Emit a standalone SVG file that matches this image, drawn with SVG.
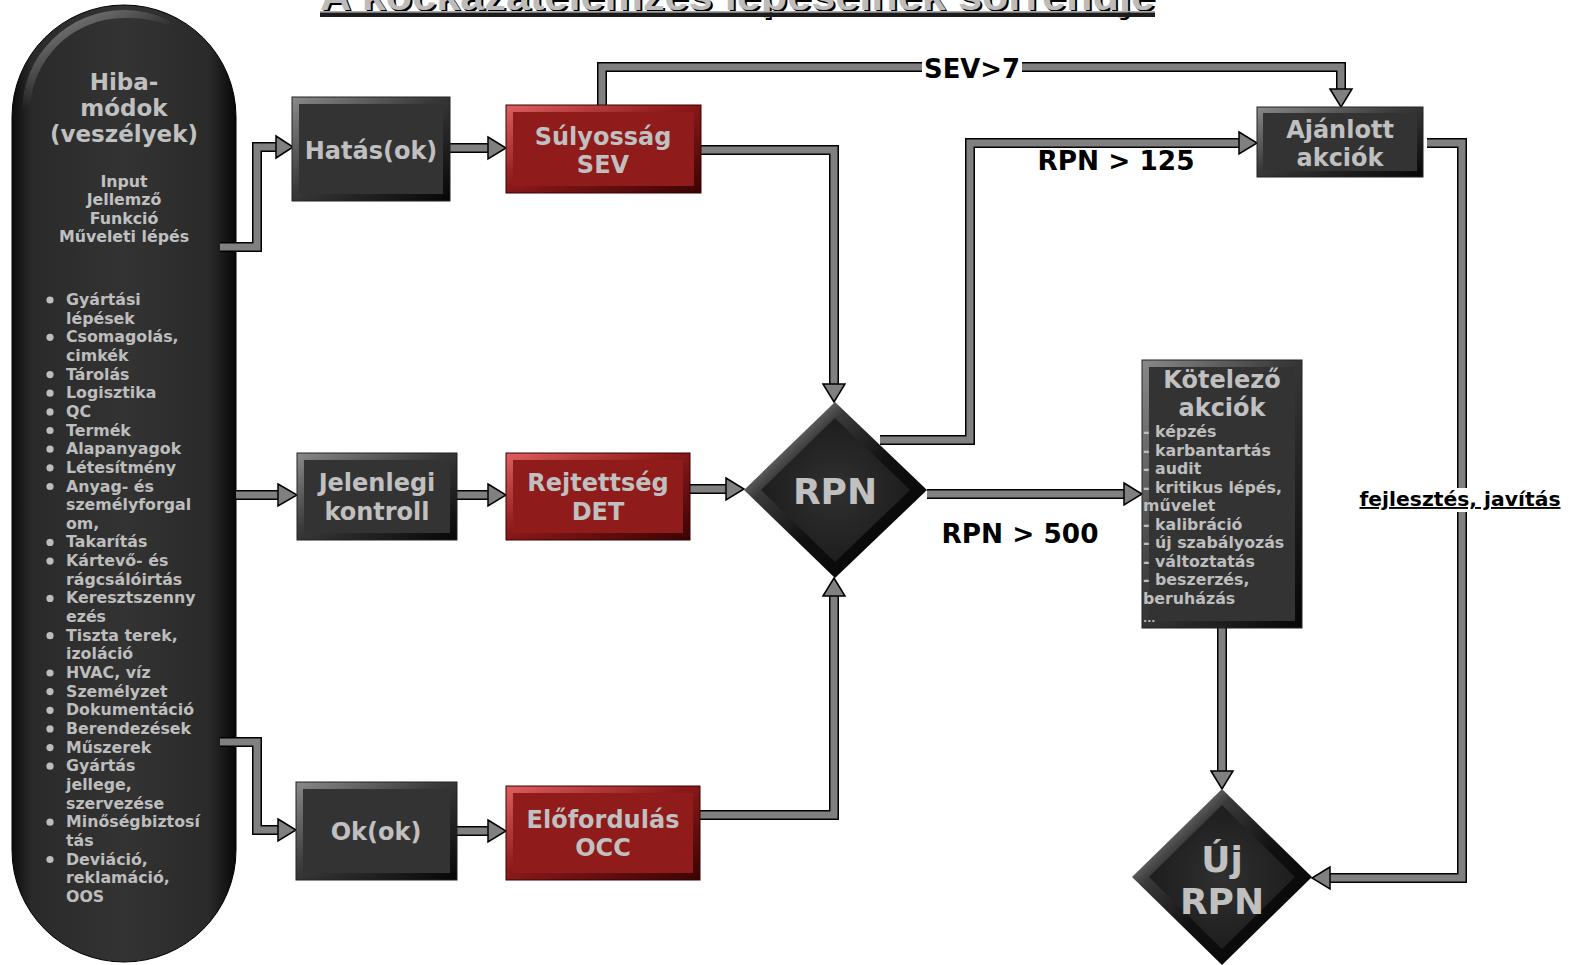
<svg xmlns="http://www.w3.org/2000/svg" width="1569" height="965" viewBox="0 0 1569 965">
<defs>
<linearGradient id="pillG" x1="0" y1="0" x2="1" y2="0">
<stop offset="0" stop-color="#0c0c0c"/><stop offset="0.09" stop-color="#2a2a2a"/><stop offset="0.5" stop-color="#333"/><stop offset="0.88" stop-color="#2a2a2a"/><stop offset="1" stop-color="#080808"/>
</linearGradient>
<linearGradient id="pillTop" x1="0" y1="0" x2="1" y2="1">
<stop offset="0" stop-color="#fff" stop-opacity="0.5"/><stop offset="0.5" stop-color="#fff" stop-opacity="0"/>
</linearGradient>
<linearGradient id="darkB" x1="0" y1="0" x2="1" y2="1">
<stop offset="0" stop-color="#8a8a8a"/><stop offset="0.45" stop-color="#3a3a3a"/><stop offset="1" stop-color="#050505"/>
</linearGradient>
<linearGradient id="redB" x1="0" y1="0" x2="1" y2="1">
<stop offset="0" stop-color="#e06060"/><stop offset="0.45" stop-color="#8e1a1a"/><stop offset="1" stop-color="#3a0303"/>
</linearGradient>
<linearGradient id="diaG" x1="0" y1="0" x2="1" y2="1">
<stop offset="0" stop-color="#f4f4f4"/><stop offset="0.3" stop-color="#3a3a3a"/><stop offset="0.55" stop-color="#111"/><stop offset="1" stop-color="#000"/>
</linearGradient>
<radialGradient id="diaIn" cx="0.5" cy="0.5" r="0.6">
<stop offset="0" stop-color="#303030"/><stop offset="1" stop-color="#1a1a1a"/>
</radialGradient>
<style>
.t{font-family:"DejaVu Sans",Verdana,sans-serif;font-weight:bold;fill:#c0c0c0;text-anchor:middle}
.h{font-size:24px}
.s{font-family:"DejaVu Sans",Verdana,sans-serif;font-weight:bold;fill:#bdbdbd;font-size:15.8px}
.lb{font-family:"DejaVu Sans",Verdana,sans-serif;font-weight:bold;fill:#000;text-anchor:middle}
.lc{font-family:"DejaVu Sans Condensed","DejaVu Sans",sans-serif;font-weight:bold;fill:#000;text-anchor:middle;font-size:27px}
.sh1{fill:none;stroke:#000;stroke-width:10;stroke-linejoin:miter}
.sh2{fill:none;stroke:#808080;stroke-width:7;stroke-linejoin:miter}
.hd{fill:#808080;stroke:#000;stroke-width:1.5;stroke-linejoin:miter}
.bul{fill:#bdbdbd}
</style>
</defs>
<rect width="1569" height="965" fill="#fff"/>

<g id="title">
<text x="322" y="12" font-family="Liberation Sans,Arial,sans-serif" font-weight="bold" font-size="40" fill="#000" textLength="835" lengthAdjust="spacingAndGlyphs">A kockázatelemzés lépéseinek sorrendje</text>
<text x="320" y="10" font-family="Liberation Sans,Arial,sans-serif" font-weight="bold" font-size="40" fill="#bcbcbc" textLength="835" lengthAdjust="spacingAndGlyphs">A kockázatelemzés lépéseinek sorrendje</text>
<rect x="320" y="11" width="835" height="1.5" fill="#aaa"/>
<rect x="320" y="12.5" width="835" height="4.5" fill="#1c1c1c"/>
</g>

<g id="hibamodok">
<rect x="12" y="5" width="224" height="957" rx="112" ry="112" fill="url(#pillG)" stroke="#000" stroke-width="1"/>
<path d="M22,112 A102,102 0 0 1 124,10 A102,102 0 0 1 200,44 A110,110 0 0 0 124,18 A94,94 0 0 0 30,112 Z" fill="url(#pillTop)"/>
<text class="t" x="124" y="90" font-size="23">Hiba-</text>
<text class="t" x="124" y="116" font-size="23">módok</text>
<text class="t" x="124" y="142" font-size="23">(veszélyek)</text>
<text class="t" x="124" y="186.5" font-size="15.8">Input</text>
<text class="t" x="124" y="205" font-size="15.8">Jellemző</text>
<text class="t" x="124" y="223.5" font-size="15.8">Funkció</text>
<text class="t" x="124" y="242" font-size="15.8">Műveleti lépés</text>
<g class="s">
<text x="66" y="305">Gyártási</text>
<text x="66" y="323.6">lépések</text>
<text x="66" y="342.3">Csomagolás,</text>
<text x="66" y="361">cimkék</text>
<text x="66" y="379.6">Tárolás</text>
<text x="66" y="398.2">Logisztika</text>
<text x="66" y="416.9">QC</text>
<text x="66" y="435.5">Termék</text>
<text x="66" y="454.2">Alapanyagok</text>
<text x="66" y="472.8">Létesítmény</text>
<text x="66" y="491.5">Anyag- és</text>
<text x="66" y="510.1">személyforgal</text>
<text x="66" y="528.8">om,</text>
<text x="66" y="547.4">Takarítás</text>
<text x="66" y="566.1">Kártevő- és</text>
<text x="66" y="584.7">rágcsálóirtás</text>
<text x="66" y="603.4">Keresztszenny</text>
<text x="66" y="622">ezés</text>
<text x="66" y="640.7">Tiszta terek,</text>
<text x="66" y="659.3">izoláció</text>
<text x="66" y="678">HVAC, víz</text>
<text x="66" y="696.6">Személyzet</text>
<text x="66" y="715.3">Dokumentáció</text>
<text x="66" y="733.9">Berendezések</text>
<text x="66" y="752.6">Műszerek</text>
<text x="66" y="771.2">Gyártás</text>
<text x="66" y="789.9">jellege,</text>
<text x="66" y="808.5">szervezése</text>
<text x="66" y="827.2">Minőségbiztosí</text>
<text x="66" y="845.8">tás</text>
<text x="66" y="864.5">Deviáció,</text>
<text x="66" y="883.1">reklamáció,</text>
<text x="66" y="901.8">OOS</text>
</g>
<g class="bul">
<circle cx="50" cy="300" r="3.6"/><circle cx="50" cy="337.3" r="3.6"/><circle cx="50" cy="374.6" r="3.6"/><circle cx="50" cy="393.2" r="3.6"/><circle cx="50" cy="411.9" r="3.6"/><circle cx="50" cy="430.5" r="3.6"/><circle cx="50" cy="449.2" r="3.6"/><circle cx="50" cy="467.8" r="3.6"/><circle cx="50" cy="486.5" r="3.6"/><circle cx="50" cy="542.4" r="3.6"/><circle cx="50" cy="561.1" r="3.6"/><circle cx="50" cy="598.4" r="3.6"/><circle cx="50" cy="635.7" r="3.6"/><circle cx="50" cy="673" r="3.6"/><circle cx="50" cy="691.6" r="3.6"/><circle cx="50" cy="710.3" r="3.6"/><circle cx="50" cy="728.9" r="3.6"/><circle cx="50" cy="747.6" r="3.6"/><circle cx="50" cy="766.2" r="3.6"/><circle cx="50" cy="822.2" r="3.6"/><circle cx="50" cy="859.5" r="3.6"/>
</g>
</g>

<g id="connectors">
<path class="sh1" d="M220,247 H257 V147 H280"/><path class="sh2" d="M220,247 H257 V147 H280"/><polygon class="hd" points="276,136 293,147 276,158"/>
<path class="sh1" d="M236,495 H281"/><path class="sh2" d="M236,495 H281"/><polygon class="hd" points="278,484 297,495 278,506"/>
<path class="sh1" d="M220,742 H257 V830 H281"/><path class="sh2" d="M220,742 H257 V830 H281"/><polygon class="hd" points="278,819 296,830 278,841"/>
<path class="sh1" d="M450,148 H491"/><path class="sh2" d="M450,148 H491"/><polygon class="hd" points="488,137 506,148 488,159"/>
<path class="sh1" d="M457,495 H491"/><path class="sh2" d="M457,495 H491"/><polygon class="hd" points="488,484 506,495 488,506"/>
<path class="sh1" d="M457,831 H491"/><path class="sh2" d="M457,831 H491"/><polygon class="hd" points="488,820 506,831 488,842"/>
<path class="sh1" d="M701,150 H834 V387"/><path class="sh2" d="M701,150 H834 V387"/><polygon class="hd" points="823,384 834,402 845,384"/>
<path class="sh1" d="M690,489 H729"/><path class="sh2" d="M690,489 H729"/><polygon class="hd" points="726,478 744,489 726,500"/>
<path class="sh1" d="M700,815 H834 V593"/><path class="sh2" d="M700,815 H834 V593"/><polygon class="hd" points="823,596 834,578 845,596"/>
<path class="sh1" d="M602,105 V67 H1341 V92"/><path class="sh2" d="M602,105 V67 H1341 V92"/><polygon class="hd" points="1330,89 1341,107 1352,89"/>
<path class="sh1" d="M880,440 H970 V143 H1242"/><path class="sh2" d="M880,440 H970 V143 H1242"/><polygon class="hd" points="1239,132 1257,143 1239,154"/>
<path class="sh1" d="M927,494 H1127"/><path class="sh2" d="M927,494 H1127"/><polygon class="hd" points="1124,483 1142,494 1124,505"/>
<path class="sh1" d="M1222,628 V774"/><path class="sh2" d="M1222,628 V774"/><polygon class="hd" points="1211,771 1222,789 1233,771"/>
<path class="sh1" d="M1427,143 H1462 V878 H1327"/><path class="sh2" d="M1427,143 H1462 V878 H1327"/><polygon class="hd" points="1330,867 1312,878 1330,889"/>
<rect x="922" y="56" width="100" height="24" fill="#fff"/>
<text class="lc" x="972" y="78" textLength="96" lengthAdjust="spacingAndGlyphs">SEV&gt;7</text>
<text class="lc" x="1116" y="170" textLength="157" lengthAdjust="spacingAndGlyphs">RPN &gt; 125</text>
<text class="lb" x="1020" y="543" font-size="26" textLength="157" lengthAdjust="spacingAndGlyphs">RPN &gt; 500</text>
<rect x="1360" y="488" width="201" height="24" fill="#fff"/>
<text class="lb" x="1460" y="506" font-size="19" textLength="201" lengthAdjust="spacingAndGlyphs" text-decoration="underline">fejlesztés, javítás</text>
</g>

<g id="hatasok">
<rect x="292" y="97" width="158" height="104" fill="url(#darkB)" stroke="#222" stroke-width="1"/>
<rect x="299" y="104" width="144" height="90" fill="#333"/>
<text class="t h" x="371" y="159">Hatás(ok)</text>
</g>
<g id="sulyossag">
<rect x="506" y="105" width="195" height="88" fill="url(#redB)" stroke="#3a0000" stroke-width="1"/>
<rect x="513" y="112" width="181" height="74" fill="#8f1b1b"/>
<text class="t h" x="603" y="145">Súlyosság</text>
<text class="t h" x="603" y="173">SEV</text>
</g>
<g id="jelenlegi">
<rect x="297" y="453" width="160" height="87" fill="url(#darkB)" stroke="#222" stroke-width="1"/>
<rect x="304" y="460" width="146" height="73" fill="#333"/>
<text class="t h" x="377" y="491">Jelenlegi</text>
<text class="t h" x="377" y="520">kontroll</text>
</g>
<g id="rejtettseg">
<rect x="506" y="453" width="184" height="87" fill="url(#redB)" stroke="#3a0000" stroke-width="1"/>
<rect x="513" y="460" width="170" height="73" fill="#8f1b1b"/>
<text class="t h" x="598" y="491">Rejtettség</text>
<text class="t h" x="598" y="520">DET</text>
</g>
<g id="okok">
<rect x="296" y="782" width="161" height="98" fill="url(#darkB)" stroke="#222" stroke-width="1"/>
<rect x="303" y="789" width="147" height="84" fill="#333"/>
<text class="t h" x="376" y="840">Ok(ok)</text>
</g>
<g id="elofordulas">
<rect x="506" y="786" width="194" height="94" fill="url(#redB)" stroke="#3a0000" stroke-width="1"/>
<rect x="513" y="793" width="180" height="80" fill="#8f1b1b"/>
<text class="t h" x="603" y="828">Előfordulás</text>
<text class="t h" x="603" y="856">OCC</text>
</g>
<g id="rpn">
<polygon points="835,402 927,490 835,578 744,490" fill="url(#diaG)"/>
<polygon points="835,418 910,490 835,562 761,490" fill="url(#diaIn)"/>
<text class="t" x="835" y="504" font-size="36">RPN</text>
</g>
<g id="ajanlott">
<rect x="1257" y="107" width="166" height="70" fill="url(#darkB)" stroke="#222" stroke-width="1"/>
<rect x="1263" y="113" width="154" height="58" fill="#333"/>
<text class="t h" x="1340" y="138">Ajánlott</text>
<text class="t h" x="1340" y="166">akciók</text>
</g>
<g id="kotelezo">
<rect x="1142" y="360" width="160" height="268" fill="url(#darkB)" stroke="#222" stroke-width="1"/>
<rect x="1149" y="367" width="146" height="254" fill="#333"/>
<text class="t h" x="1222" y="388">Kötelező</text>
<text class="t h" x="1222" y="416">akciók</text>
<g class="s">
<text x="1143" y="437">- képzés</text>
<text x="1143" y="455.5">- karbantartás</text>
<text x="1143" y="474">- audit</text>
<text x="1143" y="492.5">- kritikus lépés,</text>
<text x="1143" y="511">művelet</text>
<text x="1143" y="529.5">- kalibráció</text>
<text x="1143" y="548">- új szabályozás</text>
<text x="1143" y="566.5">- változtatás</text>
<text x="1143" y="585">- beszerzés,</text>
<text x="1143" y="603.5">beruházás</text>
<text x="1143" y="622" font-size="11">...</text>
</g>
</g>
<g id="ujrpn">
<polygon points="1222,789 1312,877 1222,965 1132,877" fill="url(#diaG)"/>
<polygon points="1222,805 1295,877 1222,949 1149,877" fill="url(#diaIn)"/>
<text class="t" x="1222" y="872" font-size="36">Új</text>
<text class="t" x="1222" y="914" font-size="36">RPN</text>
</g>
</svg>
